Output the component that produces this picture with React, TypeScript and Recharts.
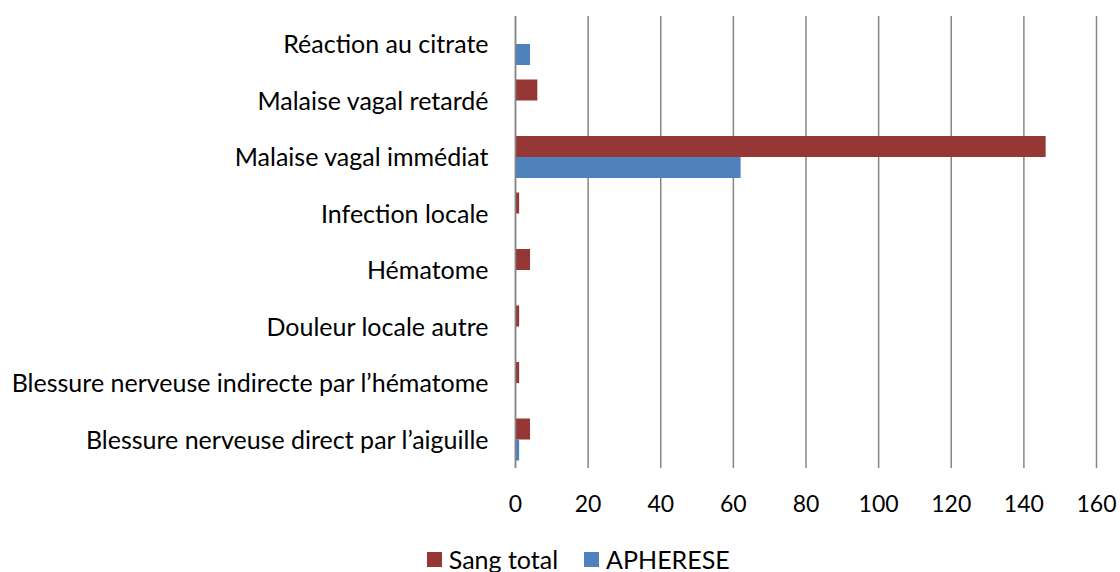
import React from "react";
import { BarChart, Bar, XAxis, YAxis, CartesianGrid, Legend } from "recharts";

const categories = [
  "Réaction au citrate",
  "Malaise vagal retardé",
  "Malaise vagal immédiat",
  "Infection locale",
  "Hématome",
  "Douleur locale autre",
  "Blessure nerveuse indirecte par l’hématome",
  "Blessure nerveuse direct par l’aiguille",
];
const sangTotal = [0, 6, 146, 1, 4, 1, 1, 4];
const apherese = [4, 0, 62, 0, 0, 0, 0, 1];
const xTicks = [0, 20, 40, 60, 80, 100, 120, 140, 160];
const seriesNames = ["Sang total", "APHERESE"];
const seriesColors = ["#953735", "#4F81BD"];

const data = categories.map((c, i) => ({
  name: c,
  sang: sangTotal[i],
  aph: apherese[i],
}));

const FONT = "Lato, 'Open Sans', sans-serif";

if (typeof document !== "undefined") {
  document.body.style.overflow = "hidden";
  document.body.style.margin = "0";
}

const LegendContent = () => (
  <div
    style={{
      display: "flex",
      justifyContent: "center",
      alignItems: "center",
      paddingTop: 10,
      paddingLeft: 52,
      fontFamily: FONT,
      fontSize: 25,
      color: "#000",
      lineHeight: "26px",
    }}
  >
    {seriesNames.map((n, i) => (
      <div key={n} style={{ display: "flex", alignItems: "center", marginLeft: i ? 26 : 0 }}>
        <div style={{ width: 15, height: 15, background: seriesColors[i], marginRight: 7 }} />
        <span>{n}</span>
      </div>
    ))}
  </div>
);

export default function App() {
  return (
    <div style={{ fontFamily: FONT, paddingLeft: 8, paddingTop: 8, width: 1112 }}>
      <BarChart
        width={1112}
        height={564}
        data={data}
        layout="vertical"
        margin={{ top: 8, right: 23.5, left: 0, bottom: 0 }}
        barGap={0}
      >
        <CartesianGrid horizontal={false} stroke="#868686" strokeWidth={1.5} />
        <XAxis
          type="number"
          domain={[0, 160]}
          ticks={xTicks}
          height={68}
          axisLine={false}
          tickLine={false}
          tickSize={0}
          tickMargin={28}
          interval={0}
          tick={{ fill: "#000", fontSize: 23, fontFamily: FONT }}
        />
        <YAxis
          type="category"
          dataKey="name"
          width={507.5}
          axisLine={{ stroke: "#868686", strokeWidth: 1.5 }}
          tickLine={false}
          tickSize={0}
          tickMargin={27}
          interval={0}
          tick={{ fill: "#000", fontSize: 25, fontFamily: FONT }}
        />
        <Legend verticalAlign="bottom" height={36} content={<LegendContent />} />
        <Bar dataKey="sang" name={seriesNames[0]} fill={seriesColors[0]} barSize={21} isAnimationActive={false} />
        <Bar dataKey="aph" name={seriesNames[1]} fill={seriesColors[1]} barSize={21} isAnimationActive={false} />
      </BarChart>
    </div>
  );
}
